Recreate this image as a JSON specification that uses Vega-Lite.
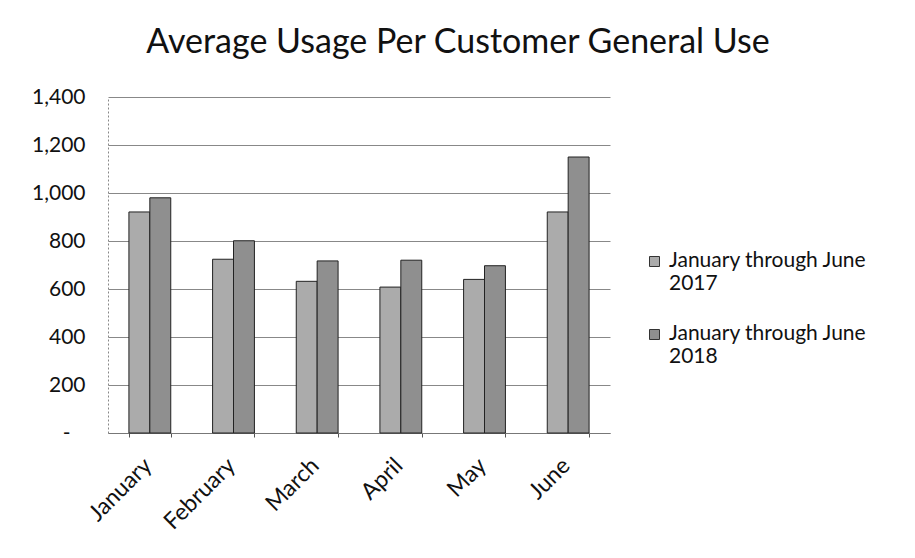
{
  "$schema": "https://vega.github.io/schema/vega-lite/v6.json",
  "width": 502,
  "height": 336,
  "autosize": "none",
  "padding": {"left": 108, "top": 97, "right": 305, "bottom": 125},
  "background": "white",
  "title": {
    "text": "Average Usage Per Customer General Use",
    "frame": "group",
    "anchor": "middle",
    "dx": 99,
    "offset": 26,
    "fontSize": 34,
    "font": "Lato",
    "fontWeight": "normal",
    "color": "#111"
  },
  "data": {
    "values": [
      {"month": "January", "series": "January through June 2017", "usage": 921},
      {"month": "January", "series": "January through June 2018", "usage": 980},
      {"month": "February", "series": "January through June 2017", "usage": 724},
      {"month": "February", "series": "January through June 2018", "usage": 801},
      {"month": "March", "series": "January through June 2017", "usage": 632},
      {"month": "March", "series": "January through June 2018", "usage": 717},
      {"month": "April", "series": "January through June 2017", "usage": 608},
      {"month": "April", "series": "January through June 2018", "usage": 720},
      {"month": "May", "series": "January through June 2017", "usage": 640},
      {"month": "May", "series": "January through June 2018", "usage": 697},
      {"month": "June", "series": "January through June 2017", "usage": 921},
      {"month": "June", "series": "January through June 2018", "usage": 1150}
    ]
  },
  "mark": {"type": "bar", "stroke": "#222", "strokeWidth": 1},
  "encoding": {
    "x": {
      "field": "month",
      "type": "nominal",
      "sort": ["January", "February", "March", "April", "May", "June"],
      "scale": {"paddingInner": 0.5, "paddingOuter": 0.25},
      "axis": {
        "title": null,
        "labelAngle": -45,
        "labelAlign": "right",
        "labelBaseline": "top",
        "labelFontSize": 23,
        "labelFont": "Lato",
        "labelColor": "#111",
        "labelPadding": 17,
        "labelOffset": -10,
        "tickBand": "extent",
        "tickSize": 4,
        "tickColor": "#555",
        "domainColor": "#777"
      }
    },
    "xOffset": {"field": "series", "type": "nominal"},
    "y": {
      "field": "usage",
      "type": "quantitative",
      "scale": {"domain": [0, 1400], "nice": false},
      "axis": {
        "title": null,
        "values": [0, 200, 400, 600, 800, 1000, 1200, 1400],
        "labelExpr": "datum.value == 0 ? '-' : format(datum.value, ',')",
        "labelFontSize": 21,
        "labelFont": "Lato",
        "labelColor": "#111",
        "labelPadding": {"condition": {"test": "datum.value === 0", "value": 38}, "value": 23},
        "ticks": false,
        "domainColor": "#888",
        "domainDash": [2, 2],
        "gridColor": "#888",
        "gridWidth": 1
      }
    },
    "fill": {
      "field": "series",
      "type": "nominal",
      "scale": {"range": ["#ababab", "#8f8f8f"]},
      "legend": {
        "title": null,
        "orient": "none",
        "legendX": 536,
        "legendY": 154,
        "symbolType": "square",
        "symbolSize": 100,
        "symbolStrokeColor": "#333",
        "symbolStrokeWidth": 1,
        "labelFontSize": 21,
        "labelFont": "Lato",
        "labelColor": "#111",
        "labelLimit": 300,
        "labelBaseline": "top",
        "labelOffset": 4,
        "rowPadding": 28,
        "labelExpr": "[substring(datum.label, 0, 20), substring(datum.label, 21)]",
        "encode": {
          "labels": {"update": {"dy": {"value": -12}}}
        }
      }
    }
  },
  "config": {
    "view": {"stroke": null},
    "axis": {"labelLineHeight": 26},
    "legend": {"labelLineHeight": 27}
  }
}
